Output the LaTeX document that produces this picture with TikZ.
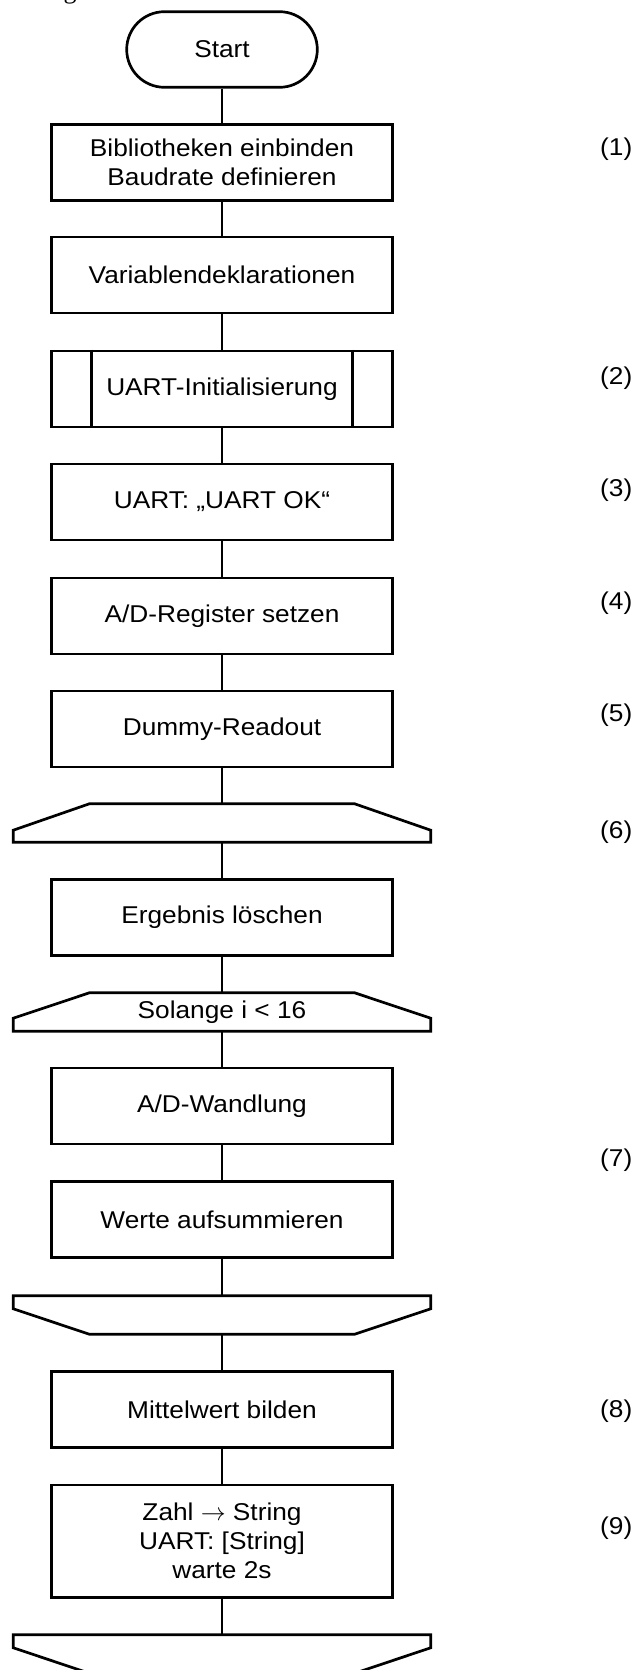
\documentclass[tikz,border=0pt]{standalone}
\usepackage{fontspec}
\setmainfont{Liberation Sans}[FakeStretch=1.08]
\newfontfamily\captionserif{Liberation Serif}
\begin{document}
\begin{tikzpicture}[x=1pt,y=-1pt,
  every node/.style={font=\fontsize{24.3}{29}\selectfont},
  conn/.style={line width=2.7pt},
  procbox/.style={draw, line width=2.7pt, minimum width=340.6pt, minimum height=76pt,
                  align=center, inner sep=0pt},
  terminal/.style={draw, line width=2.7pt, rounded corners=37.8pt,
                   minimum width=190.6pt, minimum height=75.6pt, inner sep=0pt},
  loopbox/.style={minimum width=417pt, minimum height=38pt, inner sep=0pt},
  numlabel/.style={anchor=west, inner sep=0pt},
]
\useasboundingbox (0,0) rectangle (636,1670);
\clip (0,0) rectangle (636,1670);

% tail of the caption line above the chart
\node[anchor=base, inner sep=0pt, font=\captionserif\fontsize{26}{30}\selectfont] (captail) at (70,-1) {g};

% main sequence
\node[terminal] (start) at (222,49.5) {Start};
\node[procbox] (b1) at (222,162.2) {Bibliotheken einbinden\\Baudrate definieren};
\node[procbox] (b2) at (222,275) {Variablendeklarationen};
\node[procbox] (b3) at (222,389) {UART-Initialisierung};
\draw[conn] ([xshift=41pt]b3.north west) -- ([xshift=41pt]b3.south west);
\draw[conn] ([xshift=-41pt]b3.north east) -- ([xshift=-41pt]b3.south east);
\node[procbox] (b4) at (222,502) {UART: „UART OK“};
\node[procbox] (b5) at (222,616) {A/D-Register setzen};
\node[procbox] (b6) at (222,729) {Dummy-Readout};

% outer loop start
\node[loopbox] (l1) at (222,823) {};
\draw[conn] (l1.south west) -- (l1.south east) -- ([yshift=12pt]l1.south east)
  -- ([xshift=-76pt]l1.north east) -- ([xshift=76pt]l1.north west)
  -- ([yshift=12pt]l1.south west) -- cycle;

\node[procbox] (b7) at (222,917.5) {Ergebnis löschen};

% inner loop start
\node[loopbox] (l2) at (222,1012) {Solange i < 16};
\draw[conn] (l2.south west) -- (l2.south east) -- ([yshift=13pt]l2.south east)
  -- ([xshift=-76pt]l2.north east) -- ([xshift=76pt]l2.north west)
  -- ([yshift=13pt]l2.south west) -- cycle;

\node[procbox] (b8) at (222,1106) {A/D-Wandlung};
\node[procbox] (b9) at (222,1219.5) {Werte aufsummieren};

% inner loop end
\node[loopbox] (e1) at (222,1315) {};
\draw[conn] (e1.north west) -- (e1.north east) -- ([yshift=-13pt]e1.north east)
  -- ([xshift=-76pt]e1.south east) -- ([xshift=76pt]e1.south west)
  -- ([yshift=-13pt]e1.north west) -- cycle;

\node[procbox] (b10) at (222,1409.5) {Mittelwert bilden};
\node[procbox, minimum height=112.3pt] (b11) at (222,1541.2)
  {Zahl $\rightarrow$ String\\UART: [String]\\warte 2s};

% outer loop end
\node[loopbox] (e2) at (222,1654) {};
\draw[conn] (e2.north west) -- (e2.north east) -- ([yshift=-13pt]e2.north east)
  -- ([xshift=-76pt]e2.south east) -- ([xshift=76pt]e2.south west)
  -- ([yshift=-13pt]e2.north west) -- cycle;

% connectors
\draw[conn] (start) -- (b1);
\draw[conn] (b1) -- (b2);
\draw[conn] (b2) -- (b3);
\draw[conn] (b3) -- (b4);
\draw[conn] (b4) -- (b5);
\draw[conn] (b5) -- (b6);
\draw[conn] (b6) -- (l1);
\draw[conn] (l1) -- (b7);
\draw[conn] (b7) -- (l2);
\draw[conn] (l2) -- (b8);
\draw[conn] (b8) -- (b9);
\draw[conn] (b9) -- (e1);
\draw[conn] (e1) -- (b10);
\draw[conn] (b10) -- (b11);
\draw[conn] (b11) -- (e2);

% step numbers
\node[numlabel] (n1) at (600,149) {(1)};
\node[numlabel] (n2) at (600,378) {(2)};
\node[numlabel] (n3) at (600,490) {(3)};
\node[numlabel] (n4) at (600,603) {(4)};
\node[numlabel] (n5) at (600,715) {(5)};
\node[numlabel] (n6) at (600,832) {(6)};
\node[numlabel] (n7) at (600,1160) {(7)};
\node[numlabel] (n8) at (600,1411) {(8)};
\node[numlabel] (n9) at (600,1528) {(9)};
\end{tikzpicture}
\end{document}
